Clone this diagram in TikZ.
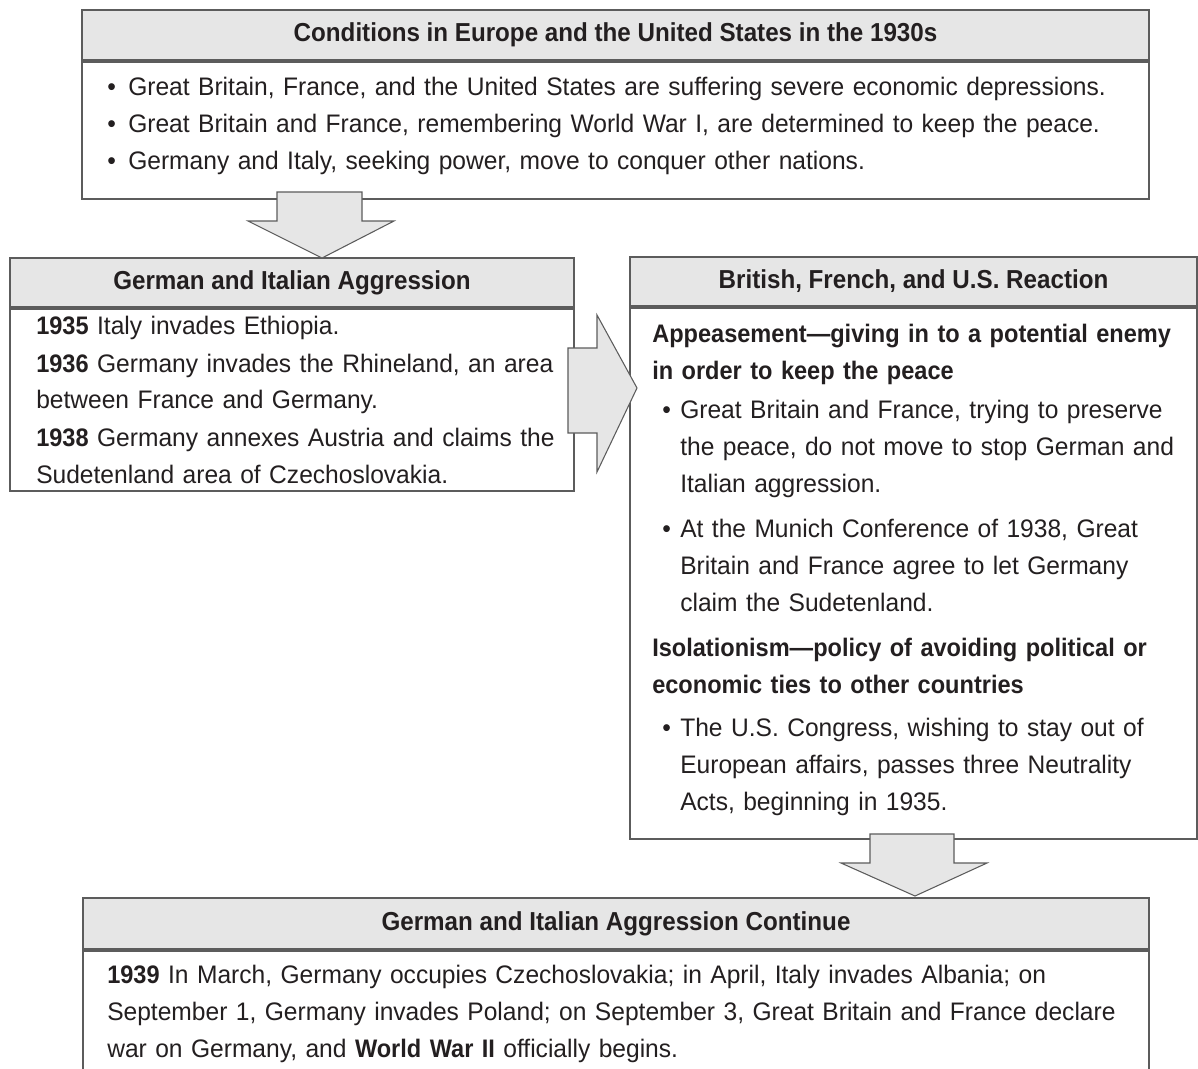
\documentclass[tikz,border=0pt]{standalone}
\usepackage{fontspec}
\setmainfont{Liberation Sans}[FakeStretch=0.97,BoldFeatures={FakeStretch=0.93}]
\newlength\pxu
\setlength\pxu{0.75pt}
\definecolor{ink}{HTML}{231F20}
\definecolor{hdrfill}{HTML}{E6E6E6}
\definecolor{frame}{HTML}{5C5C5C}
\newcommand{\bul}{\makebox[21\pxu][l]{•}}
\newcommand{\bulr}{\hspace*{10\pxu}\makebox[18\pxu][l]{•}}
\newcommand{\indr}{\hspace*{28\pxu}}
\tikzset{
  hdr/.style={draw=frame, line width=1.5pt, fill=hdrfill, inner sep=0pt, anchor=north west,
    font=\fontsize{19.5pt}{22pt}\selectfont\bfseries, text=ink},
  bodybox/.style={draw=frame, line width=1.5pt, fill=white, inner sep=0pt, anchor=north},
  txt/.style={inner sep=0pt, anchor=north west, align=left, text=ink, text width=1100\pxu,
    font=\fontsize{19pt}{27.6pt}\selectfont},
  blockarrow/.style={draw=frame, line width=0.8pt, fill=hdrfill, line join=miter}
}
\begin{document}
\begin{tikzpicture}[x=0.75pt,y=-0.75pt]
\useasboundingbox (0,0) rectangle (1198,1068);
\clip (0,0) rectangle (1198,1068);

% top box
\node[hdr, minimum width=1067\pxu, minimum height=50\pxu] (tophdr) at (81,9)
  {Conditions in Europe and the United States in the 1930s};
\node[bodybox, minimum width=1067\pxu, minimum height=137\pxu] (topbody) at (tophdr.south) {};
\node[txt] (toptxt) at (107,69.7) {\strut\bul Great Britain, France, and the United States are suffering severe economic depressions.\\
\bul Great Britain and France, remembering World War I, are determined to keep the peace.\\
\bul Germany and Italy, seeking power, move to conquer other nations.};

% left box
\node[hdr, minimum width=564\pxu, minimum height=49\pxu] (lefthdr) at (9,257)
  {German and Italian Aggression};
\node[bodybox, minimum width=564\pxu, minimum height=182\pxu] (leftbody) at (lefthdr.south) {};
\node[txt] (lefttxt) at (36,308.2) {\strut\textbf{1935} Italy invades Ethiopia.\\[1\pxu]
\textbf{1936} Germany invades the Rhineland, an area\\
between France and Germany.\\[1\pxu]
\textbf{1938} Germany annexes Austria and claims the\\
Sudetenland area of Czechoslovakia.};

% right box
\node[hdr, minimum width=567\pxu, minimum height=49\pxu] (righthdr) at (629,256)
  {British, French, and U.S. Reaction};
\node[bodybox, minimum width=567\pxu, minimum height=531\pxu] (rightbody) at (righthdr.south) {};
\node[txt] (righttxt) at (652,316.7) {\strut\textbf{Appeasement—giving in to a potential enemy}\\
\textbf{in order to keep the peace}\\[2.5\pxu]
\bulr Great Britain and France, trying to preserve\\
\indr the peace, do not move to stop German and\\
\indr Italian aggression.\\[8.5\pxu]
\bulr At the Munich Conference of 1938, Great\\
\indr Britain and France agree to let Germany\\
\indr claim the Sudetenland.\\[8.5\pxu]
\textbf{Isolationism—policy of avoiding political or}\\
\textbf{economic ties to other countries}\\[6.5\pxu]
\bulr The U.S. Congress, wishing to stay out of\\
\indr European affairs, passes three Neutrality\\
\indr Acts, beginning in 1935.};

% bottom box
\node[hdr, minimum width=1066\pxu, minimum height=51\pxu] (bothdr) at (82,897)
  {German and Italian Aggression Continue};
\node[bodybox, minimum width=1066\pxu, minimum height=200\pxu] (botbody) at (bothdr.south) {};
\node[txt] (bottxt) at (107,957.7) {\strut\textbf{1939} In March, Germany occupies Czechoslovakia; in April, Italy invades Albania; on\\
September 1, Germany invades Poland; on September 3, Great Britain and France declare\\
war on Germany, and \textbf{World War II} officially begins.};

% block arrows
\draw[blockarrow] (277,192) -- (362,192) -- (362,221) -- (394,221) -- (322,258) -- (248,221) -- (277,221) -- cycle;
\draw[blockarrow] (568,348) -- (597,348) -- (597,315) -- (637,388) -- (597,472) -- (597,433) -- (568,433) -- cycle;
\draw[blockarrow] (870,834) -- (954,834) -- (954,863) -- (987,863) -- (915,896) -- (841,863) -- (870,863) -- cycle;
\end{tikzpicture}
\end{document}
